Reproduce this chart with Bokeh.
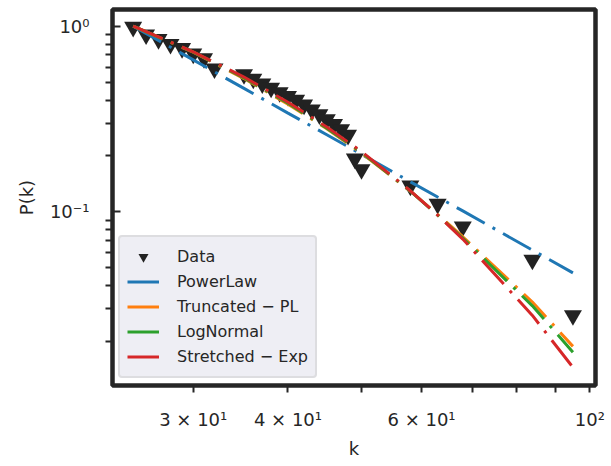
from bokeh.plotting import figure
from bokeh.models import Range1d, FixedTicker, Legend, LegendItem
from bokeh.embed import file_html
from bokeh.resources import INLINE

# ---- data ----
k_data = [25, 26, 27, 28, 29, 30, 31, 32, 35, 36, 37, 38, 39, 40, 41, 42,
          43, 44, 45, 46, 47, 48, 49, 50, 58, 63, 68, 84, 95]
p_data = [0.99, 0.90, 0.85, 0.80, 0.76, 0.71, 0.67, 0.59, 0.55, 0.52, 0.49,
          0.465, 0.44, 0.42, 0.40, 0.377, 0.355, 0.334, 0.314, 0.296, 0.278,
          0.259, 0.193, 0.169, 0.138, 0.110, 0.083, 0.055, 0.0276]

k_fit = [25, 30, 35, 40, 45, 50, 58, 63, 68, 84, 95]
p_powerlaw = [1.0, 0.658, 0.462, 0.340, 0.260, 0.204, 0.145, 0.120, 0.101, 0.0621, 0.0468]
p_truncated = [1.0, 0.724, 0.522, 0.380, 0.280, 0.207, 0.129, 0.0966, 0.0733, 0.0326, 0.0188]
p_lognormal = [1.0, 0.726, 0.526, 0.384, 0.282, 0.209, 0.129, 0.0959, 0.0721, 0.0311, 0.0175]
p_stretched = [1.0, 0.728, 0.532, 0.389, 0.286, 0.211, 0.1297, 0.0960, 0.0712, 0.0276, 0.0145]

x_major = [30, 40, 60, 100]
x_major_labels = ["3 × 10¹", "4 × 10¹", "6 × 10¹", "10²"]
x_minor = [50, 70, 80, 90]
y_major = [1, 0.1]
y_major_labels = ["10⁰", "10⁻¹"]
y_minor = [0.9, 0.8, 0.7, 0.6, 0.5, 0.4, 0.3, 0.2,
           0.09, 0.08, 0.07, 0.06, 0.05, 0.04, 0.03, 0.02]

series_names = ["PowerLaw", "Truncated − PL", "LogNormal", "Stretched − Exp"]
series_colors = ["#1f77b4", "#ff7f0e", "#2ca02c", "#d62728"]

FONT = "DejaVu Sans"
INK = "#262626"

p = figure(width=605, height=461, x_axis_type="log", y_axis_type="log",
           x_range=Range1d(23.48, 101.74), y_range=Range1d(0.01157, 1.230),
           output_backend="svg", toolbar_location=None,
           min_border_left=112, min_border_right=10,
           min_border_top=9, min_border_bottom=69)
p.grid.visible = False
p.background_fill_color = "white"
p.border_fill_color = "white"
p.outline_line_color = INK
p.outline_line_width = 4.5
p.outline_line_alpha = 1.0

xa = p.xaxis[0]
xa.ticker = FixedTicker(ticks=x_major, minor_ticks=x_minor)
xa.major_label_overrides = dict(zip(x_major, x_major_labels))
xa.axis_line_color = None
xa.major_tick_in = 0
xa.major_tick_out = 7
xa.minor_tick_in = 0
xa.minor_tick_out = 7
xa.major_tick_line_width = 2
xa.minor_tick_line_width = 2
xa.major_tick_line_color = INK
xa.minor_tick_line_color = INK
xa.major_label_text_font = FONT
xa.major_label_text_font_size = "18px"
xa.major_label_text_color = INK
xa.major_label_standoff = 16
xa.axis_label = "k"
xa.axis_label_text_font = FONT
xa.axis_label_text_font_size = "18px"
xa.axis_label_text_font_style = "normal"
xa.axis_label_text_color = INK
xa.axis_label_standoff = 5

ya = p.yaxis[0]
ya.ticker = FixedTicker(ticks=y_major, minor_ticks=y_minor)
ya.major_label_overrides = dict(zip(y_major, y_major_labels))
ya.axis_line_color = None
ya.major_tick_in = 8
ya.major_tick_out = 0
ya.minor_tick_in = 0
ya.minor_tick_out = 7
ya.major_tick_line_width = 2
ya.minor_tick_line_width = 2
ya.major_tick_line_color = INK
ya.minor_tick_line_color = INK
ya.major_label_text_font = FONT
ya.major_label_text_font_size = "18px"
ya.major_label_text_color = INK
ya.major_label_standoff = 16
ya.axis_label = "P(k)"
ya.axis_label_text_font = FONT
ya.axis_label_text_font_size = "18px"
ya.axis_label_text_font_style = "normal"
ya.axis_label_text_color = INK
ya.axis_label_standoff = 10

r_data = p.scatter(k_data, p_data, marker="inverted_triangle", size=18,
                   fill_color="#222222", line_color=None)

fit_values = [p_powerlaw, p_truncated, p_lognormal, p_stretched]
items = [LegendItem(label="Data", renderers=[r_data])]
for name, color, vals in zip(series_names, series_colors, fit_values):
    r = p.line(k_fit, vals, line_color=color, line_width=3, line_dash="32 9 3 9")
    items.append(LegendItem(label=name, renderers=[r]))

legend = Legend(items=items, location=(6, 7))
legend.label_text_font = FONT
legend.label_text_font_size = "16px"
legend.label_text_color = INK
legend.glyph_width = 32
legend.glyph_height = 25
legend.label_height = 25
legend.spacing = 0
legend.padding = 7
legend.margin = 0
legend.label_standoff = 18
legend.background_fill_color = "#eeeef4"
legend.background_fill_alpha = 1.0
legend.border_line_color = "#cccccc"
legend.border_line_width = 2
if "border_radius" in legend.properties():
    legend.border_radius = 4
p.add_layout(legend)

open("out.html", "w").write(file_html(p, INLINE))
